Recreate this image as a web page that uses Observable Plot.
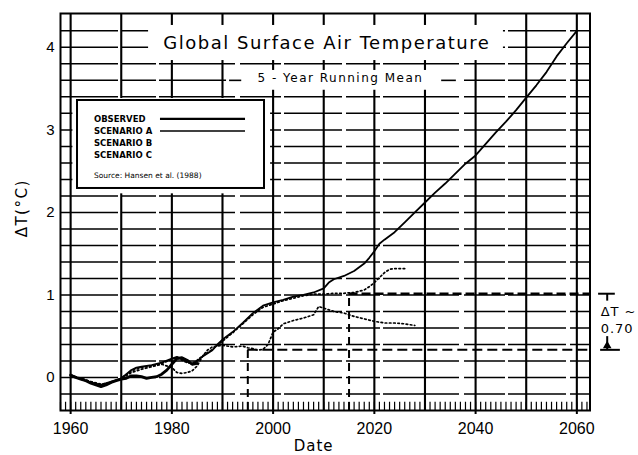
<!DOCTYPE html>
<html><head><meta charset="utf-8">
<script src="https://cdn.jsdelivr.net/npm/d3@7"></script>
<script src="https://cdn.jsdelivr.net/npm/@observablehq/plot@0.6"></script>
<style>
html,body{margin:0;padding:0;background:#fff;}
svg{display:block;}
</style></head><body>
<div id="chart"></div>
<script>
// ---- data ----
const obsYears = [1960,1961,1962,1963,1964,1965,1966,1967,1968,1969,1970,1971,1972,1973,1974,1975,1976,1977,1978,1979,1980,1981,1982,1983,1984,1985];
const obsTemps = [0.03,0.00,-0.02,-0.04,-0.07,-0.09,-0.11,-0.09,-0.06,-0.04,-0.02,-0.01,0.02,0.02,0.01,-0.01,0.00,0.01,0.04,0.09,0.16,0.23,0.24,0.21,0.16,0.17];

const scenAYears = [1960,1962,1964,1966,1968,1970,1971,1972,1973,1974,1976,1978,1980,1981,1982,1983,1984,1985,1986,1987,1988,1989,1990,1992,1994,1996,1998,2000,2002,2004,2006,2008,2010,2011,2012,2014,2016,2018,2019,2020,2021,2022,2024,2026,2028,2030,2032,2034,2036,2038,2040,2042,2044,2046,2048,2050,2052,2054,2056,2058,2060];
const scenATemps = [0.03,-0.02,-0.06,-0.09,-0.05,-0.01,0.04,0.09,0.12,0.13,0.15,0.18,0.23,0.25,0.22,0.19,0.16,0.2,0.25,0.29,0.33,0.4,0.46,0.55,0.66,0.78,0.87,0.91,0.94,0.98,1.0,1.03,1.08,1.15,1.19,1.23,1.29,1.38,1.45,1.53,1.62,1.67,1.76,1.88,2.0,2.12,2.24,2.35,2.47,2.59,2.69,2.83,2.97,3.10,3.24,3.39,3.54,3.70,3.89,4.05,4.2];

const scenBYears = [1960,1962,1964,1966,1968,1970,1972,1974,1976,1978,1980,1981,1982,1983,1984,1985,1986,1988,1990,1992,1994,1996,1998,2000,2002,2004,2006,2008,2010,2012,2014,2016,2018,2019,2020,2021,2022,2023,2024,2025,2026];
const scenBTemps = [0.02,-0.01,-0.05,-0.08,-0.06,-0.01,0.08,0.12,0.14,0.17,0.22,0.24,0.21,0.18,0.17,0.21,0.26,0.34,0.44,0.54,0.65,0.76,0.85,0.89,0.93,0.96,0.99,1.01,1.01,1.02,1.02,1.03,1.06,1.1,1.15,1.21,1.27,1.31,1.32,1.32,1.32];

const scenCYears = [1960,1962,1964,1966,1968,1970,1972,1974,1976,1978,1980,1981,1982,1983,1984,1985,1986,1987,1988,1990,1992,1994,1995,1996,1997,1998,1999,2000,2001,2002,2004,2006,2008,2009,2010,2012,2014,2016,2018,2020,2022,2024,2026,2028];
const scenCTemps = [0.03,-0.01,-0.05,-0.09,-0.06,-0.02,0.06,0.1,0.13,0.16,0.12,0.06,0.05,0.06,0.08,0.14,0.25,0.33,0.37,0.39,0.37,0.38,0.36,0.35,0.33,0.34,0.4,0.55,0.59,0.65,0.69,0.72,0.76,0.86,0.84,0.8,0.78,0.74,0.71,0.68,0.66,0.66,0.65,0.63];

// reference lines drawn on the chart
const refYears = [1995, 2015];
const refLevels = [0.335, 1.015];   // low, high
const deltaLabel = ["ΔT ~", "0.70"];

// ticks / grid / labels
const xTickLabels = [1960,1980,2000,2020,2040,2060];
const yTickLabels = [0,1,2,3,4];
const gridYears = [1960,1970,1980,1990,2000,2010,2020,2030,2040,2050,2060];
const gridTemps = [-0.2,0,0.2,0.4,0.6,0.8,1.0,1.2,1.4,1.6,1.8,2.0,2.2,2.4,2.6,2.8,3.0,3.2,3.4,3.6,3.8,4.0,4.2];
const minorYears = d3.range(1958, 2063);

const titleText = "Global Surface Air Temperature";
const subtitleText = "5 - Year Running Mean";
const legendLabels = ["OBSERVED","SCENARIO A","SCENARIO B","SCENARIO C"];
const sourceText = "Source: Hansen et al. (1988)";
const yLabel = "ΔT(°C)";
const xLabel = "Date";

const toRows = (xs, ys) => xs.map((x, i) => ({x, y: ys[i]}));
const obs = toRows(obsYears, obsTemps);
const scenA = toRows(scenAYears, scenATemps);
const scenB = toRows(scenBYears, scenBTemps);
const scenC = toRows(scenCYears, scenCTemps);

const X0 = 1958, X1 = 2062.6, Y0 = -0.40, Y1 = 4.41;
const legendRowY = (d, i) => 3.134 - i * 0.148;

const chart = Plot.plot({
  width: 638, height: 455,
  marginLeft: 60, marginRight: 48.5, marginTop: 13, marginBottom: 45,
  x: {domain: [X0, X1]},
  y: {domain: [Y0, Y1]},
  style: {background: "white", color: "black", fontFamily: "Liberation Sans, sans-serif", overflow: "visible"},
  marks: [
    // grid (scanned, slightly broken horizontal rules)
    Plot.ruleY(gridTemps, {x1: X0, x2: X1, stroke: "black", strokeWidth: 1.5, strokeDasharray: "58,4,34,3,76,5,41,3"}),
    Plot.ruleX(gridYears, {y1: Y0, y2: Y1, stroke: "black", strokeWidth: 2.1}),
    // white cut-outs for title, subtitle, legend
    Plot.rect([0], {x1: 1975.4, x2: 2045.5, y1: 3.84, y2: 4.265, fill: "white"}),
    Plot.rect([0], {x1: 1990.8, x2: 2037.0, y1: 3.48, y2: 3.72, fill: "white"}),
    Plot.rect([0], {x1: 1960.45, x2: 1999.5, y1: 2.225, y2: 3.38, fill: "white"}),
    Plot.frame({stroke: "black", strokeWidth: 2}),
    // minor year ticks along the bottom
    Plot.ruleX(minorYears, {y1: Y0, y2: -0.3, stroke: "black", strokeWidth: 1.2}),
    // scenarios and observations
    Plot.line(scenC, {x: "x", y: "y", stroke: "black", strokeWidth: 1.7, strokeDasharray: "1.6,2.6"}),
    Plot.line(scenB, {x: "x", y: "y", stroke: "black", strokeWidth: 1.7, strokeDasharray: "1.6,2.6"}),
    Plot.line(scenA, {x: "x", y: "y", stroke: "black", strokeWidth: 1.8}),
    Plot.line(obs, {x: "x", y: "y", stroke: "black", strokeWidth: 2.8}),
    // reference dashed lines
    Plot.ruleY([refLevels[1]], {x1: refYears[1], x2: X1, stroke: "black", strokeWidth: 2.6, strokeDasharray: "9,4"}),
    Plot.ruleY([refLevels[0]], {x1: refYears[0], x2: X1, stroke: "black", strokeWidth: 2, strokeDasharray: "10,5"}),
    Plot.ruleX([refYears[1]], {y1: Y0, y2: refLevels[1], stroke: "black", strokeWidth: 2, strokeDasharray: "8,5"}),
    Plot.ruleX([refYears[0]], {y1: Y0, y2: refLevels[0], stroke: "black", strokeWidth: 2, strokeDasharray: "8,5"}),
    // legend box
    Plot.rect([0], {x1: 1961.36, x2: 1998.3, y1: 2.29, y2: 3.356, fill: "none", stroke: "black", strokeWidth: 2}),
    Plot.text(legendLabels, {x: 1964.6, y: legendRowY, text: d => d, textAnchor: "start", fontSize: 8.5, fontWeight: "bold", fontFamily: "DejaVu Sans"}),
    Plot.ruleY([legendRowY(null, 0)], {x1: 1977.75, x2: 1994.55, stroke: "black", strokeWidth: 2.2}),
    Plot.ruleY([legendRowY(null, 1)], {x1: 1977.75, x2: 1994.55, stroke: "black", strokeWidth: 1.5}),
    Plot.text([sourceText], {x: 1964.6, y: 2.447, text: d => d, textAnchor: "start", fontSize: 7.5, fontFamily: "DejaVu Sans"}),
    // title / subtitle
    Plot.text([titleText], {x: 2010.6, y: 4.05, text: d => d, fontSize: 18, fontFamily: "DejaVu Sans"}),
    Plot.text([subtitleText], {x: 2013.3, y: 3.63, text: d => d, fontSize: 12, fontFamily: "DejaVu Sans"}),
    Plot.ruleY([3.6], {x1: 1991.4, x2: 1993.8, stroke: "black", strokeWidth: 1.6}),
    Plot.ruleY([3.6], {x1: 2033.3, x2: 2036.2, stroke: "black", strokeWidth: 1.6}),
    // axes
    Plot.axisX(xTickLabels, {tickSize: 4, tickPadding: 8, strokeWidth: 2, fontSize: 16, tickFormat: d => String(d), label: null}),
    Plot.axisY(yTickLabels, {tickSize: 0, tickPadding: 6, fontSize: 15, tickFormat: d => String(d), label: null}),
    Plot.text([yLabel], {x: 1950.5, y: 2.05, text: d => d, rotate: -90, fontSize: 15, fontFamily: "DejaVu Sans"}),
    Plot.text([xLabel], {x: 2008.0, y: -0.835, text: d => d, fontSize: 15, fontFamily: "DejaVu Sans"}),
    // ΔT bracket outside the frame
    Plot.ruleY([refLevels[1]], {x1: 2064.3, x2: 2067.6, stroke: "black", strokeWidth: 2}),
    Plot.ruleX([2066.0], {y1: refLevels[1], y2: refLevels[1] - 0.09, stroke: "black", strokeWidth: 2}),
    Plot.ruleY([refLevels[0]], {x1: 2064.7, x2: 2068.6, stroke: "black", strokeWidth: 2}),
    Plot.ruleX([2066.0], {y1: refLevels[0], y2: refLevels[0] + 0.16, stroke: "black", strokeWidth: 2}),
    Plot.dot([refLevels[0] + 0.05], {x: 2066.0, y: d => d, symbol: "triangle", r: 3.2, fill: "black"}),
    Plot.text(deltaLabel, {x: 2064.7, y: (d, i) => 0.79 - i * 0.2, text: d => d, textAnchor: "start", fontSize: 13, fontFamily: "DejaVu Sans"})
  ]
});

d3.select(chart).selectAll("text").each(function () {
  const t = this.textContent;
  if (t === titleText) this.setAttribute("letter-spacing", "1.5");
  else if (t === subtitleText) this.setAttribute("letter-spacing", "1.5");
  else if (t === yLabel) this.setAttribute("letter-spacing", "1.5");
  else if (t === xLabel) this.setAttribute("letter-spacing", "1");
  else if (deltaLabel.includes(t)) this.setAttribute("letter-spacing", "1");
});

document.getElementById("chart").appendChild(chart);
</script></body></html>
